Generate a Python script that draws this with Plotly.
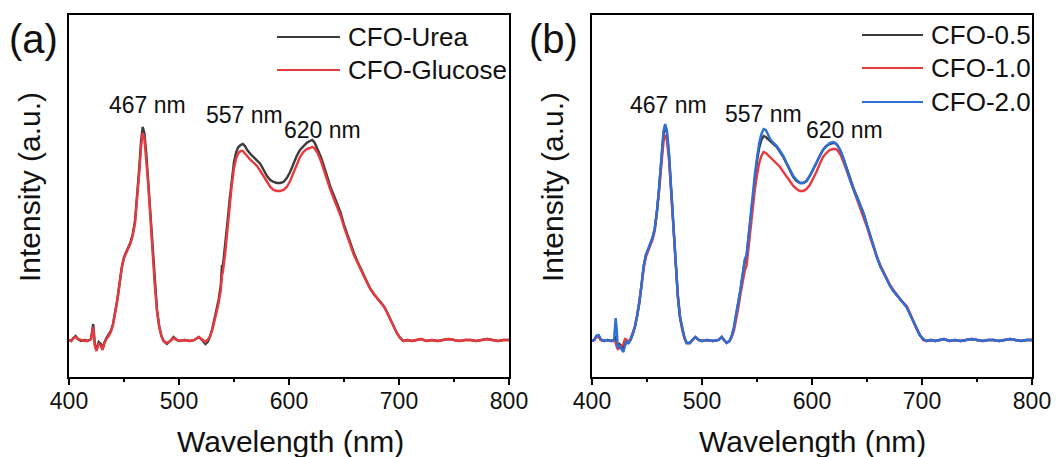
import plotly.graph_objects as go

# ---------------- data: photoluminescence spectra (a.u.) ----------------
# Panel (a): wavelength grid and intensities
wl_a = [400, 402, 404, 406, 408, 411, 414, 417, 420, 422, 423.5, 425, 427, 429, 430.5, 432, 434, 436, 438,
        440, 442, 444, 446, 448, 450, 452, 454, 456, 458, 460, 462, 464, 465.5, 467, 468.5, 470, 472, 474,
        476, 478, 480, 482, 484, 486, 489, 492, 495, 498, 501, 505, 510, 514, 518, 521, 524, 526, 528, 530,
        532, 534, 536, 538, 539, 540, 542, 544, 546, 548, 550, 552, 554, 556, 558, 560, 562, 565, 568, 571,
        574, 577, 580, 583, 586, 589, 592, 595, 598, 601, 604, 607, 610, 613, 616, 619, 621, 623, 626, 629,
        632, 635, 638, 641, 644, 647, 650, 653, 656, 659, 662, 665, 668, 671, 674, 677, 680, 683, 686, 689,
        692, 695, 698, 701, 704, 708, 712, 716, 720, 725, 730, 735, 740, 745, 750, 755, 760, 765, 770, 775,
        780, 785, 790, 795, 800]
cfo_urea = [37, 36, 39, 41, 38, 36, 37, 36, 38, 53, 33, 27, 35, 33, 28, 34, 39, 42, 46,
            53, 64, 78, 94, 110, 120, 126, 130, 135, 143, 156, 180, 211, 236, 250, 244, 227, 196, 162,
            126, 93, 67, 51, 41, 36, 33, 36, 40, 37, 36, 37, 36, 37, 40, 37, 33, 35, 40, 47,
            56, 66, 77, 92, 111, 112, 131, 154, 177, 198, 215, 225, 230, 232, 233, 231, 227, 223, 220, 217,
            213, 207, 201, 197, 195, 194, 194, 195, 199, 205, 213, 221, 227, 231, 234, 236, 237, 235, 228, 220,
            210, 199, 189, 181, 173, 164, 152, 142, 132, 124, 116, 109, 101, 94, 88, 83, 79, 75, 71, 65,
            58, 51, 44, 39, 36, 37, 36, 37, 38, 36, 37, 36, 37, 38, 37, 36, 37, 37, 36, 37,
            38, 37, 36, 37, 37]
cfo_glucose = [37, 36, 39, 40, 38, 37, 36, 36, 38, 50, 31, 26, 34, 31, 27, 33, 38, 41, 45,
               52, 63, 77, 93, 109, 119, 125, 129, 134, 142, 154, 177, 206, 230, 244, 239, 222, 193, 159,
               124, 91, 66, 50, 41, 36, 34, 36, 39, 37, 36, 37, 36, 37, 40, 37, 35, 37, 40, 46,
               54, 64, 74, 87, 101, 106, 124, 148, 171, 192, 209, 219, 224, 226, 226, 224, 221, 217, 214, 211,
               206, 201, 195, 190, 187, 186, 186, 187, 190, 196, 204, 213, 220, 225, 228, 229, 230, 229, 224, 216,
               207, 196, 186, 178, 170, 161, 150, 140, 130, 122, 115, 108, 100, 94, 88, 83, 79, 75, 71, 65,
               58, 51, 44, 39, 36, 37, 36, 37, 38, 36, 37, 36, 37, 38, 37, 36, 37, 37, 36, 37,
               38, 37, 36, 37, 37]

# Panel (b): wavelength grid and intensities
wl_b = [400, 402, 404, 406, 408, 411, 414, 417, 420, 421.5, 422.5, 423.5, 425, 427, 428.5, 430, 431.5, 433,
        435, 437, 439, 441, 443, 445, 447, 449, 451, 453, 455, 457, 459, 461, 463, 465, 466.5, 468, 470,
        472, 474, 476, 478, 480, 482, 484, 486, 489, 492, 494, 497, 500, 505, 510, 515, 518, 520, 522.5,
        525, 527, 529, 531, 533, 535, 537, 539, 540.5, 542, 544, 546, 548, 550, 552, 554, 556, 558, 560,
        562, 565, 568, 571, 574, 577, 580, 583, 586, 589, 592, 595, 598, 601, 604, 607, 610, 613, 616,
        619, 621, 623, 626, 629, 632, 635, 638, 641, 644, 647, 650, 653, 656, 659, 662, 665, 668, 671,
        674, 677, 680, 683, 686, 689, 692, 695, 698, 701, 704, 708, 712, 716, 720, 725, 730, 735, 740,
        745, 750, 755, 760, 765, 770, 775, 780, 785, 790, 795, 800]
cfo_05 = [36, 37, 41, 41, 37, 36, 37, 36, 37, 41, 33, 31, 33, 31, 29, 34, 36, 35,
          37, 43, 50, 61, 74, 92, 111, 122, 128, 133, 139, 148, 165, 189, 217, 243, 251, 245, 222,
          185, 145, 110, 80, 59, 47, 39, 34, 34, 38, 40, 37, 36, 37, 36, 37, 40, 37, 34,
          36, 41, 49, 61, 74, 87, 102, 117, 121, 137, 159, 180, 200, 216, 229, 237, 241, 240, 238,
          236, 233, 230, 225, 220, 213, 206, 200, 196, 194, 194, 196, 201, 207, 214, 221, 227, 231, 233,
          234, 234, 232, 226, 217, 207, 197, 188, 180, 172, 163, 152, 141, 130, 120, 111, 104, 97, 91,
          86, 82, 78, 74, 70, 63, 56, 49, 42, 38, 36, 37, 36, 37, 38, 36, 37, 36, 37,
          38, 37, 36, 37, 37, 36, 37, 38, 37, 36, 37, 37]
cfo_10 = [36, 37, 40, 40, 37, 36, 37, 36, 36, 35, 30, 28, 29, 32, 33, 38, 37, 35,
          38, 44, 51, 61, 74, 91, 109, 120, 126, 131, 137, 146, 163, 185, 211, 235, 242, 238, 217,
          184, 145, 112, 83, 61, 47, 39, 34, 34, 37, 40, 37, 36, 37, 36, 37, 40, 37, 34,
          36, 40, 46, 57, 69, 83, 95, 107, 111, 127, 148, 169, 187, 202, 214, 221, 225, 224, 222,
          220, 217, 214, 210, 205, 200, 195, 191, 188, 186, 186, 188, 192, 198, 205, 213, 220, 224, 227,
          228, 228, 227, 222, 214, 205, 195, 186, 178, 170, 161, 150, 139, 129, 120, 112, 105, 98, 92,
          87, 82, 78, 74, 71, 64, 56, 48, 42, 37, 36, 37, 36, 37, 38, 36, 37, 36, 37,
          38, 37, 36, 37, 37, 36, 37, 38, 37, 36, 37, 37]
cfo_20 = [36, 37, 41, 42, 38, 36, 37, 36, 37, 59, 47, 29, 31, 27, 25, 31, 36, 33,
          37, 43, 50, 61, 74, 92, 111, 122, 128, 133, 139, 148, 165, 190, 218, 246, 253, 247, 224,
          187, 147, 112, 82, 60, 48, 40, 34, 34, 38, 40, 37, 36, 37, 36, 37, 40, 37, 34,
          36, 41, 50, 62, 75, 88, 103, 118, 122, 139, 161, 182, 202, 219, 234, 243, 248, 247, 243,
          238, 234, 231, 226, 221, 214, 207, 201, 197, 194, 194, 196, 201, 208, 215, 221, 227, 231, 234,
          235, 234, 232, 226, 217, 206, 196, 187, 179, 171, 163, 152, 141, 130, 120, 111, 104, 97, 91,
          86, 82, 78, 74, 70, 63, 56, 48, 42, 38, 36, 37, 36, 37, 38, 36, 37, 36, 37,
          38, 37, 36, 37, 37, 36, 37, 38, 37, 36, 37, 37]

x_ticks = [400, 500, 600, 700, 800]
peak_labels = ["467 nm", "557 nm", "620 nm"]

# ---------------- styling ----------------
W, H = 1061, 457
FONT = "Arial, Liberation Sans, Helvetica, sans-serif"
C_BLACK = "#3b3b3b"
C_RED = "#e8393f"
C_BLUE = "#2e6fd6"
LW = 2.4


def px(x):
    return x / W


def py(y):
    return 1 - y / H


fig = go.Figure()

# panel (a)
fig.add_trace(go.Scatter(x=wl_a, y=cfo_urea, name="CFO-Urea", mode="lines",
                         line=dict(color=C_BLACK, width=LW), xaxis="x", yaxis="y"))
fig.add_trace(go.Scatter(x=wl_a, y=cfo_glucose, name="CFO-Glucose", mode="lines",
                         line=dict(color=C_RED, width=LW), xaxis="x", yaxis="y"))
# panel (b)
fig.add_trace(go.Scatter(x=wl_b, y=cfo_05, name="CFO-0.5", mode="lines",
                         line=dict(color=C_BLACK, width=LW), xaxis="x2", yaxis="y2"))
fig.add_trace(go.Scatter(x=wl_b, y=cfo_10, name="CFO-1.0", mode="lines",
                         line=dict(color=C_RED, width=LW), xaxis="x2", yaxis="y2"))
fig.add_trace(go.Scatter(x=wl_b, y=cfo_20, name="CFO-2.0", mode="lines",
                         line=dict(color=C_BLUE, width=LW), xaxis="x2", yaxis="y2"))

xaxis_style = dict(range=[400, 800], tickvals=x_ticks, ticks="outside", ticklen=6, tickwidth=2,
                   tickcolor="black", showline=True, linewidth=2, linecolor="black", mirror=True,
                   showgrid=False, zeroline=False, automargin=False, ticklabelstandoff=-4,
                   tickfont=dict(family=FONT, size=23, color="#111"),
                   minor=dict(dtick=50, tick0=400, ticks="outside", ticklen=3, tickwidth=2,
                              tickcolor="black", showgrid=False))
yaxis_style = dict(range=[0, 362], showticklabels=False, ticks="", showline=True, linewidth=2,
                   linecolor="black", mirror=True, showgrid=False, zeroline=False, automargin=False)

y_dom = [py(377), py(15)]
fig.update_layout(
    width=W, height=H,
    margin=dict(l=0, r=0, t=0, b=0),
    paper_bgcolor="white", plot_bgcolor="white",
    showlegend=False,
    xaxis=dict(domain=[px(69), px(509)], anchor="y", **xaxis_style),
    yaxis=dict(domain=y_dom, anchor="x", **yaxis_style),
    xaxis2=dict(domain=[px(592), px(1032)], anchor="y2", **xaxis_style),
    yaxis2=dict(domain=y_dom, anchor="x2", **yaxis_style),
)

annotations = []


def text(x, y, s, size, angle=0, xanchor="center"):
    annotations.append(dict(x=px(x), y=py(y), xref="paper", yref="paper", text=s, showarrow=False,
                            xanchor=xanchor, yanchor="middle", textangle=angle,
                            font=dict(family=FONT, size=size, color="#111")))


# panel letters
text(33, 39, "(a)", 40)
text(553, 39, "(b)", 40)
# axis titles
text(290, 441, "Wavelength (nm)", 30)
text(812, 441, "Wavelength (nm)", 30)
text(29, 187, "Intensity (a.u.)", 30, angle=-90)
text(552, 187, "Intensity (a.u.)", 30, angle=-90)
# peak positions
for (x, y), s in zip([(147, 105), (244, 115), (322, 130)], peak_labels):
    text(x, y, s, 23)
for (x, y), s in zip([(668, 105), (763, 114), (844, 130)], peak_labels):
    text(x, y, s, 23)

# legends
shapes = []


def legend_row(x0, x1, y, color, label):
    shapes.append(dict(type="line", xref="paper", yref="paper", x0=px(x0), x1=px(x1), y0=py(y), y1=py(y),
                       line=dict(color=color, width=2)))
    text(x1 + 6, y, label, 26, xanchor="left")


legend_row(277, 340, 37, C_BLACK, "CFO-Urea")
legend_row(277, 340, 70, C_RED, "CFO-Glucose")
legend_row(862, 923, 35, C_BLACK, "CFO-0.5")
legend_row(862, 923, 68, C_RED, "CFO-1.0")
legend_row(862, 923, 102, C_BLUE, "CFO-2.0")

fig.update_layout(annotations=annotations, shapes=shapes)
fig.write_html("out.html")
